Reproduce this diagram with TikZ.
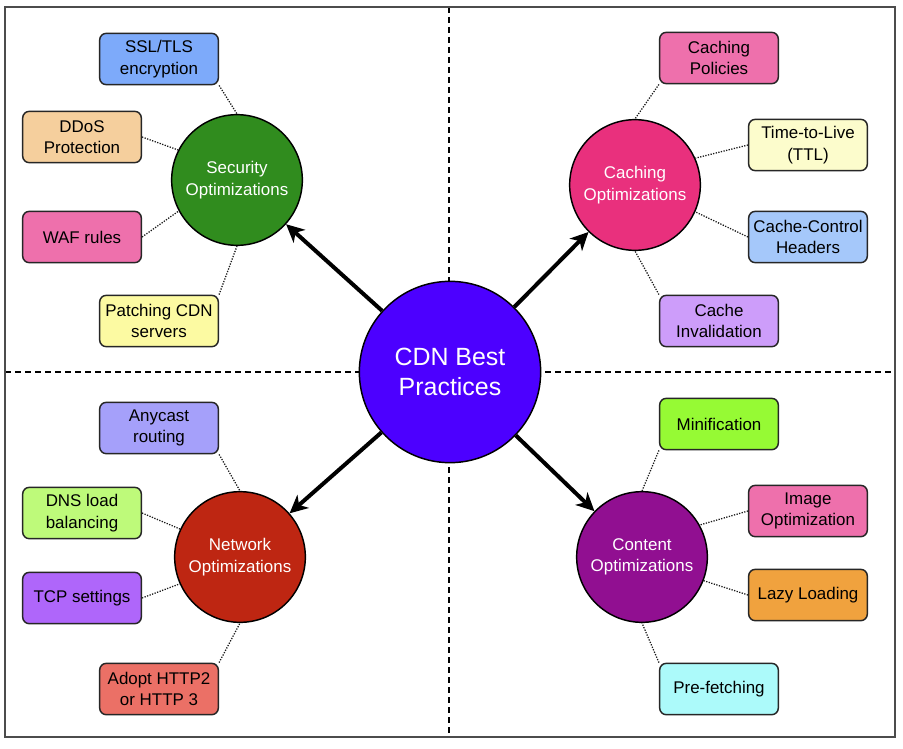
\documentclass[tikz,border=0pt]{standalone}
\usepackage{fontspec}
\setmainfont{Liberation Sans}
\usetikzlibrary{arrows.meta}
\definecolor{cmain}{RGB}{76,0,255}
\definecolor{csec}{RGB}{48,140,30}
\definecolor{ccache}{RGB}{233,48,125}
\definecolor{cnet}{RGB}{190,38,18}
\definecolor{ccont}{RGB}{145,15,145}
\definecolor{bblue}{RGB}{125,170,250}
\definecolor{bpeach}{RGB}{245,207,157}
\definecolor{bpink}{RGB}{238,112,172}
\definecolor{byellow}{RGB}{252,250,162}
\definecolor{bcream}{RGB}{252,252,204}
\definecolor{blblue}{RGB}{165,200,250}
\definecolor{blilac}{RGB}{205,157,250}
\definecolor{bperi}{RGB}{165,160,250}
\definecolor{blime}{RGB}{190,250,122}
\definecolor{bviolet}{RGB}{175,102,250}
\definecolor{bsalmon}{RGB}{235,112,102}
\definecolor{bgreen}{RGB}{150,250,52}
\definecolor{borange}{RGB}{240,162,62}
\definecolor{bcyan}{RGB}{172,250,250}
\begin{document}
\begin{tikzpicture}[x=0.75pt,y=-0.75pt,
  box/.style={draw=black!85, line width=1.1pt, rounded corners=5pt,
    minimum width=89pt, minimum height=38.5pt, align=center,
    font=\fontsize{12.7}{16.2}\selectfont, inner sep=1pt},
  sub/.style={circle, draw=black, line width=1.1pt, minimum size=98pt,
    align=center, text=white, font=\fontsize{12.7}{16.2}\selectfont, inner sep=0pt},
  link/.style={line width=0.95pt, black!90, dash pattern=on 0.95pt off 1.05pt},
  mainarrow/.style={-{Stealth[length=13.5pt,width=13pt,inset=4pt]}, line width=3pt},
  divider/.style={line width=1.2pt, dash pattern=on 4.5pt off 3pt}]
\useasboundingbox (0,0) rectangle (903,749);
\fill[white] (0,0) rectangle (903,749);
% dividers
\coordinate (dtop) at (449,7);
\coordinate (dbot) at (449,737);
\coordinate (dleft) at (5,372);
\coordinate (dright) at (895,372);
\draw[divider] (dtop) -- (dbot);
\draw[divider] (dleft) -- (dright);
\draw[line width=1.1pt, black!70] (5,7) rectangle (895,737);
% central
\node[circle, draw=black, line width=1.1pt, fill=cmain, minimum size=136pt,
  align=center, text=white, font=\fontsize{18.7}{22.5}\selectfont] (cdn) at (450,372) {CDN Best\\Practices};
% sub circles
\node[sub, fill=csec] (sec) at (237,180) {Security\\Optimizations};
\node[sub, fill=ccache] (cache) at (635,185) {Caching\\Optimizations};
\node[sub, fill=cnet] (net) at (240,557) {Network\\Optimizations};
\node[sub, fill=ccont] (cont) at (642,557) {Content\\Optimizations};
% arrows
\draw[mainarrow] (cdn) -- (sec);
\draw[mainarrow] (cdn) -- (cache);
\draw[mainarrow] (cdn) -- (net);
\draw[mainarrow] (cdn) -- (cont);
% security boxes
\node[box, fill=bblue] (ssl) at (159,59) {SSL/TLS\\encryption};
\node[box, fill=bpeach] (ddos) at (82,137) {DDoS\\Protection};
\node[box, fill=bpink] (waf) at (82,237) {WAF rules};
\node[box, fill=byellow] (patch) at (159,321) {Patching CDN\\servers};
\draw[link] (ssl.south east) -- (sec.north);
\draw[link] (ddos.east) -- (sec.153);
\draw[link] (waf.east) -- (sec.208);
\draw[link] (patch.north east) -- (sec.south);
% caching boxes
\node[box, fill=bpink] (pol) at (719,58) {Caching\\Policies};
\node[box, fill=bcream] (ttl) at (808,145) {Time-to-Live\\(TTL)};
\node[box, fill=blblue] (ccb) at (808,237) {Cache-Control\\Headers};
\node[box, fill=blilac] (inv) at (719,321) {Cache\\Invalidation};
\draw[link] (pol.south west) -- (cache.north);
\draw[link] (ttl.west) -- (cache.24);
\draw[link] (ccb.west) -- (cache.-24);
\draw[link] (inv.north west) -- (cache.south);
% network boxes
\node[box, fill=bperi] (any) at (159,428) {Anycast\\routing};
\node[box, fill=blime] (dns) at (82,513) {DNS load\\balancing};
\node[box, fill=bviolet] (tcp) at (82,598) {TCP settings};
\node[box, fill=bsalmon] (http) at (159,689) {Adopt HTTP2\\or HTTP 3};
\draw[link] (any.south east) -- (net.north);
\draw[link] (dns.east) -- (net.155);
\draw[link] (tcp.east) -- (net.204);
\draw[link] (http.north east) -- (net.south);
% content boxes
\node[box, fill=bgreen] (min) at (719,424) {Minification};
\node[box, fill=bpink] (img) at (808,511) {Image\\Optimization};
\node[box, fill=borange] (lazy) at (808,595) {Lazy Loading};
\node[box, fill=bcyan] (pre) at (719,689) {Pre-fetching};
\draw[link] (min.south west) -- (cont.north);
\draw[link] (img.west) -- (cont.29);
\draw[link] (lazy.west) -- (cont.-21);
\draw[link] (pre.north west) -- (cont.south);
\end{tikzpicture}
\end{document}
